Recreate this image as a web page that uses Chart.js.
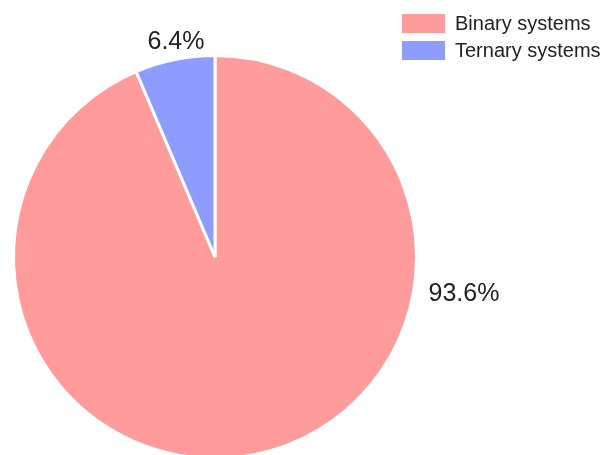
<!DOCTYPE html>
<html>
<head>
<meta charset="utf-8">
<script src="https://cdn.jsdelivr.net/npm/chart.js@4"></script>
<style>
  html, body { margin: 0; padding: 0; background: #fff; overflow: hidden; }
  #wrap { width: 615px; height: 455px; overflow: hidden; }
</style>
</head>
<body>
<div id="wrap"><canvas id="chart" width="615" height="470"></canvas></div>
<script>
// donnees du camembert
const labels = ['Binary systems', 'Ternary systems'];
const values = [93.6, 6.4];
const colors = ['#FF9B9B', '#8F9CFF'];

// decalage des etiquettes % par rapport au centre du camembert
const labelOffsets = [[249, 37], [-39, -215]];

// legende + pourcentages dessines a la main
const extraText = {
  id: 'extraText',
  afterDraw(chart) {
    const ctx = chart.ctx;
    ctx.save();
    // legende en haut a droite
    ctx.font = '20px "Liberation Sans", Arial, sans-serif';
    ctx.textBaseline = 'middle';
    ctx.textAlign = 'left';
    for (let i = 0; i < labels.length; i++) {
      const y = 14 + i * 27;
      ctx.fillStyle = colors[i];
      ctx.fillRect(402, y, 43, 19);
      ctx.fillStyle = '#222';
      ctx.fillText(labels[i], 455, y + 10);
    }
    // pourcentages a cote des parts
    const meta = chart.getDatasetMeta(0);
    ctx.font = '25px "Liberation Sans", Arial, sans-serif';
    ctx.textAlign = 'center';
    meta.data.forEach((arc, i) => {
      ctx.fillStyle = '#222';
      ctx.fillText(values[i].toFixed(1) + '%', arc.x + labelOffsets[i][0], arc.y + labelOffsets[i][1]);
    });
    ctx.restore();
  }
};

new Chart(document.getElementById('chart'), {
  type: 'pie',
  data: {
    labels: labels,
    datasets: [{
      data: values,
      backgroundColor: colors,
      borderColor: '#fff',
      borderWidth: 3
    }]
  },
  options: {
    responsive: false,
    animation: false,
    devicePixelRatio: 1,
    layout: { padding: { left: 12, right: 197, top: 54, bottom: 10 } },
    plugins: {
      legend: { display: false },
      tooltip: { enabled: false }
    }
  },
  plugins: [extraText]
});
</script>
</body>
</html>
